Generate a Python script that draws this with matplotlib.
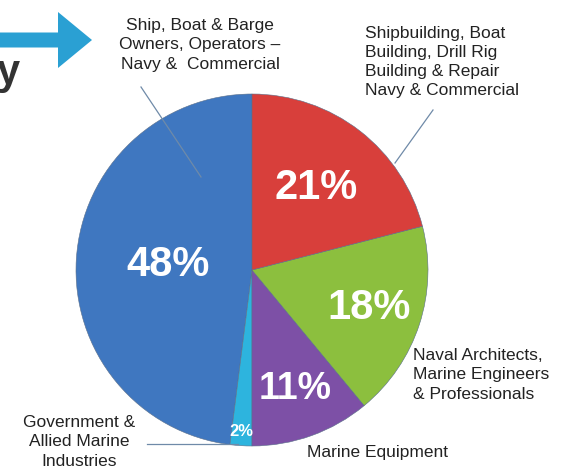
import numpy as np
import matplotlib.pyplot as plt
from matplotlib.patches import FancyArrow

# slices, counter-clockwise from 12 o'clock
categories = ["Ship, Boat & Barge\nOwners, Operators –\nNavy &  Commercial",
              "Government &\nAllied Marine\nIndustries",
              "Marine Equipment",
              "Naval Architects,\nMarine Engineers\n& Professionals",
              "Shipbuilding, Boat\nBuilding, Drill Rig\nBuilding & Repair\nNavy & Commercial"]
shares = [48, 2, 11, 18, 21]
colors = ["#3f77c0", "#2db4de", "#7d50a6", "#8cbf3e", "#d83f3b"]

W, H = 563, 476
plt.rcParams['font.family'] = ['Liberation Sans', 'DejaVu Sans']


def Y(y):
    # image pixel rows -> axes coords
    return H - y


fig = plt.figure(figsize=(W / 100, H / 100), dpi=100)
ax = fig.add_axes([0, 0, 1, 1])

cx, cy, r = 252, 270, 176
wedges, _ = ax.pie(shares, colors=colors, startangle=90, counterclock=True,
                   center=(cx, Y(cy)), radius=r,
                   wedgeprops=dict(edgecolor="#5a6f8a", linewidth=0.4))
ax.set_xlim(0, W)
ax.set_ylim(0, H)
ax.set_aspect('equal')
ax.axis('off')

# percentage labels
pct_dist = [0.48, 0.92, 0.72, 0.70, 0.59]
pct_size = [30, 12, 27, 30, 30]
for w, v, d, s in zip(wedges, shares, pct_dist, pct_size):
    a = np.deg2rad((w.theta1 + w.theta2) / 2)
    ax.text(cx + d * r * np.cos(a), Y(cy) + d * r * np.sin(a), f"{v}%",
            ha="center", va="center", color="white", fontsize=s,
            fontweight="bold")

# category labels
txt = dict(fontsize=12.5, color="#222222", linespacing=1.35)
ax.text(200, Y(45), categories[0], ha="center", va="center", **txt)
ax.text(135, Y(442), categories[1], ha="right", va="center",
        multialignment="center", **txt)
ax.text(307, Y(452), categories[2], ha="left", va="center", **txt)
ax.text(413, Y(375), categories[3], ha="left", va="center", **txt)
ax.text(365, Y(62), categories[4], ha="left", va="center", **txt)

# leader lines
lc = "#6f8aa8"
ax.plot([141, 201], [Y(87), Y(177)], color=lc, lw=0.9)
ax.plot([433, 395], [Y(110), Y(163)], color=lc, lw=0.9)
ax.plot([147, 238], [Y(444), Y(444)], color=lc, lw=0.9)

# decorative arrow and clipped title letter
ax.add_patch(FancyArrow(-5, Y(40), 63, 0, width=15, head_width=56,
                        head_length=34, length_includes_head=False,
                        color="#2aa0d3", lw=0))
ax.text(-3, Y(84), "y", fontsize=30, fontweight="bold", color="#333333",
        ha="left", va="baseline")

fig.savefig("out.png", dpi=100)
